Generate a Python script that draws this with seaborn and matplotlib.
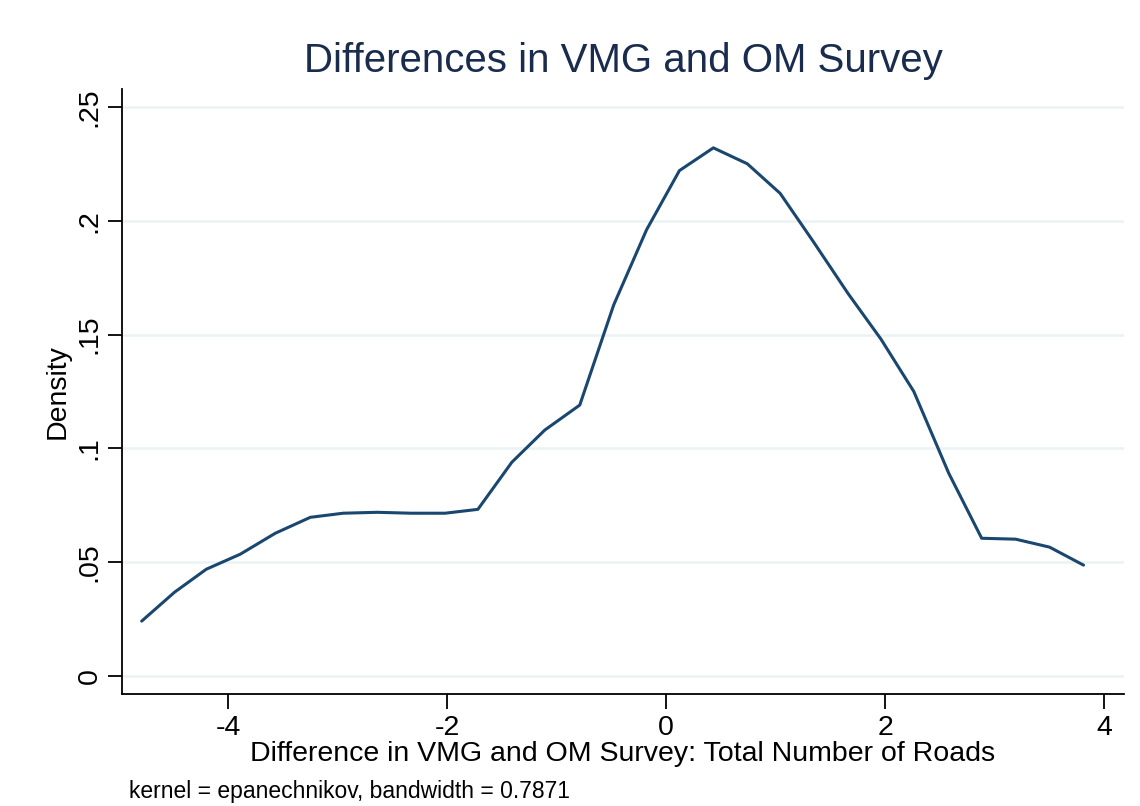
import pandas as pd
import matplotlib.pyplot as plt
import seaborn as sns
import numpy as np

# Kernel density estimate
diff_roads = [-4.79, -4.49, -4.20, -3.89, -3.57, -3.25, -2.95, -2.64, -2.33, -2.02,
              -1.72, -1.41, -1.11, -0.79, -0.48, -0.18, 0.12, 0.43, 0.74, 1.04,
              1.34, 1.66, 1.96, 2.26, 2.58, 2.88, 3.19, 3.50, 3.81]
density = [0.0241, 0.0368, 0.0469, 0.0535, 0.0627, 0.0697, 0.0715, 0.0719, 0.0715, 0.0715,
           0.0732, 0.0939, 0.1080, 0.1190, 0.1630, 0.1960, 0.2220, 0.2320, 0.2250, 0.2120,
           0.1910, 0.1680, 0.1480, 0.1250, 0.0890, 0.0605, 0.0601, 0.0566, 0.0487]
x_ticks = [-4, -2, 0, 2, 4]
y_ticks = [0, 0.05, 0.10, 0.15, 0.20, 0.25]
y_tick_labels = ['0', '.05', '.1', '.15', '.2', '.25']

kde_df = pd.DataFrame({'diff': diff_roads, 'density': density})

sns.set_style('white')
plt.rcParams['font.family'] = ['Liberation Sans', 'DejaVu Sans']
plt.rcParams['text.color'] = 'black'
plt.rcParams['axes.labelcolor'] = 'black'
plt.rcParams['xtick.color'] = 'black'
plt.rcParams['ytick.color'] = 'black'

fig = plt.figure(figsize=(11.4, 8.06), dpi=100)
ax = fig.add_axes([0.107, 0.139, 0.879, 0.751])

sns.lineplot(data=kde_df, x='diff', y='density', color='#1a476f', linewidth=2.2, ax=ax)

ax.set_xlim(-4.97, 4.18)
ax.set_ylim(-0.0079, 0.258)
ax.set_xticks(x_ticks)
ax.set_xticklabels([str(t) for t in x_ticks], fontsize=20.5)
ax.set_yticks(y_ticks)
ax.set_yticklabels(y_tick_labels, fontsize=20.5, rotation=90, va='center')
ax.grid(axis='y', color='#eaf2f3', linewidth=1.8)
ax.set_axisbelow(True)

for side in ['top', 'right']:
    ax.spines[side].set_visible(False)
for side in ['left', 'bottom']:
    ax.spines[side].set_color('black')
    ax.spines[side].set_linewidth(1.3)
ax.tick_params(axis='x', direction='out', length=11, width=1.3, pad=4, bottom=True)
ax.tick_params(axis='y', direction='out', length=10, width=1.3, pad=4, left=True)

ax.set_xlabel('Difference in VMG and OM Survey: Total Number of Roads', fontsize=20.5, labelpad=0)
ax.set_ylabel('Density', fontsize=20.5, labelpad=4)
ax.set_title('Differences in VMG and OM Survey', fontsize=29, color='#1a2c4e', pad=12)

fig.text(0.113, 0.01, 'kernel = epanechnikov, bandwidth = 0.7871', fontsize=16.5)

plt.savefig('out.png', dpi=100)
